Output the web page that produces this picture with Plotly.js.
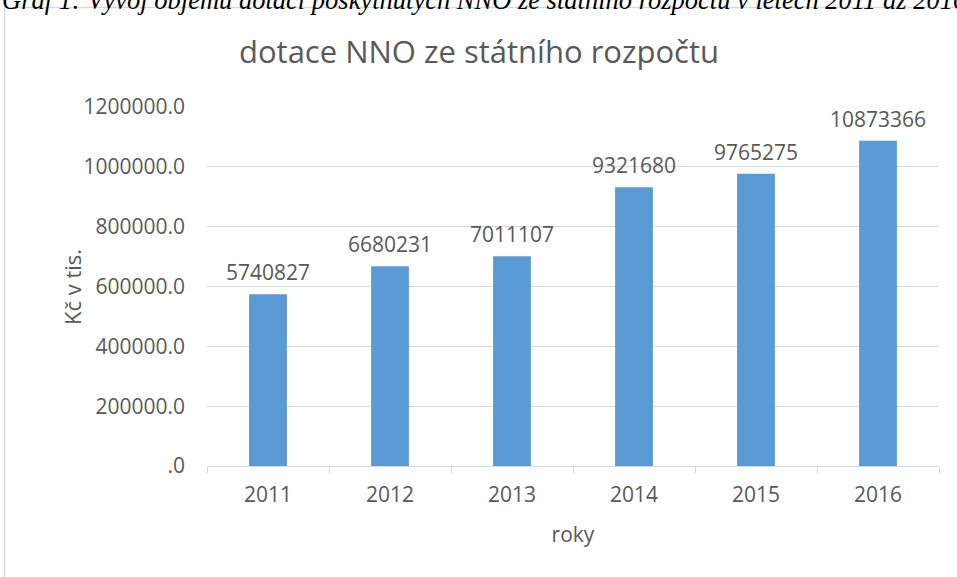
<!DOCTYPE html>
<html>
<head>
<meta charset="utf-8">
<script src="https://cdn.plot.ly/plotly-3.0.1.min.js"></script>
<style>
html,body{margin:0;padding:0;background:#fff;}
#chart{width:957px;height:577px;}
</style>
</head>
<body>
<div id="chart"></div>
<script>
// Data
const years = ["2011", "2012", "2013", "2014", "2015", "2016"];
const values = [574082.7, 668023.1, 701110.7, 932168.0, 976527.5, 1087336.6];
const labels = ["5740827", "6680231", "7011107", "9321680", "9765275", "10873366"];
const yTickVals = [0, 200000, 400000, 600000, 800000, 1000000, 1200000];
const yTickText = [".0", "200000.0", "400000.0", "600000.0", "800000.0", "1000000.0", "1200000.0"];
const chartTitle = "dotace NNO ze státního rozpočtu";
const yTitle = "Kč v tis.";
const xTitle = "roky";
const caption = "Graf 1: Vývoj objemu dotací poskytnutých NNO ze státního rozpočtu v letech 2011 až 2016";

const FONT = "Open Sans, sans-serif";
const GRAY = "#595959";
const GRID = "#d9d9d9";

const trace = {
  type: "bar",
  x: years,
  y: values,
  marker: {color: "#5b9bd5"},
  width: 0.31,
  hoverinfo: "skip"
};

// value labels above bars, positioned through the axes (category index)
const labelAnnotations = years.map((yr, i) => ({
  x: i, y: values[i], xref: "x", yref: "y",
  text: labels[i], showarrow: false,
  xanchor: "center", yanchor: "bottom", yshift: 6,
  font: {family: FONT, size: 21, color: GRAY}
}));

const layout = {
  width: 957,
  height: 577,
  margin: {l: 207, r: 18, t: 107, b: 111, pad: 0},
  paper_bgcolor: "#ffffff",
  plot_bgcolor: "#ffffff",
  showlegend: false,
  font: {family: FONT, color: GRAY},
  title: {
    text: chartTitle,
    font: {family: FONT, size: 31, color: GRAY},
    x: 479 / 957, xref: "container",
    y: 0.91, yref: "container",
    xanchor: "center", yanchor: "middle"
  },
  xaxis: {
    type: "category",
    categoryorder: "array",
    categoryarray: years,
    range: [-0.5, years.length - 0.5],
    showgrid: false,
    showline: true,
    linecolor: GRID,
    linewidth: 1,
    ticks: "outside",
    tickson: "boundaries",
    ticklen: 6,
    tickcolor: GRID,
    tickangle: 0,
    tickfont: {family: FONT, size: 21, color: GRAY},
    ticklabelstandoff: 10,
    zeroline: false,
    title: {text: xTitle, font: {family: FONT, size: 21, color: GRAY}, standoff: 20}
  },
  yaxis: {
    range: [0, 1200000],
    tickvals: yTickVals,
    ticktext: yTickText,
    showgrid: true,
    gridcolor: GRID,
    gridwidth: 1,
    zeroline: false,
    showline: false,
    ticks: "",
    tickfont: {family: FONT, size: 21, color: GRAY},
    ticklabelstandoff: 21,
    title: {text: ""}
  },
  bargap: 0.69,
  shapes: [{
    type: "rect", xref: "paper", yref: "paper",
    x0: (4.5 - 207) / 732, x1: (965 - 207) / 732,
    y0: (466 - 590) / 359, y1: 1 + (107 - 7.5) / 359,
    line: {color: GRID, width: 1.5}, fillcolor: "rgba(0,0,0,0)", layer: "below"
  }],
  annotations: [{
    text: "<i>" + caption + "</i>",
    xref: "paper", yref: "paper",
    x: (0 - 207) / 732, xanchor: "left",
    y: 1 + (107 - 17) / 359, yanchor: "bottom",
    showarrow: false,
    font: {family: "Liberation Serif, Times New Roman, serif", size: 26.5, color: "#000000"}
  }, {
    text: yTitle,
    xref: "paper", yref: "paper",
    x: (72 - 207) / 732, xanchor: "center",
    y: (466 - 287) / 359, yanchor: "middle",
    textangle: -90,
    showarrow: false,
    font: {family: FONT, size: 22, color: GRAY}
  }].concat(labelAnnotations)
};

Plotly.newPlot("chart", [trace], layout, {displayModeBar: false, staticPlot: true});
</script>
</body>
</html>
